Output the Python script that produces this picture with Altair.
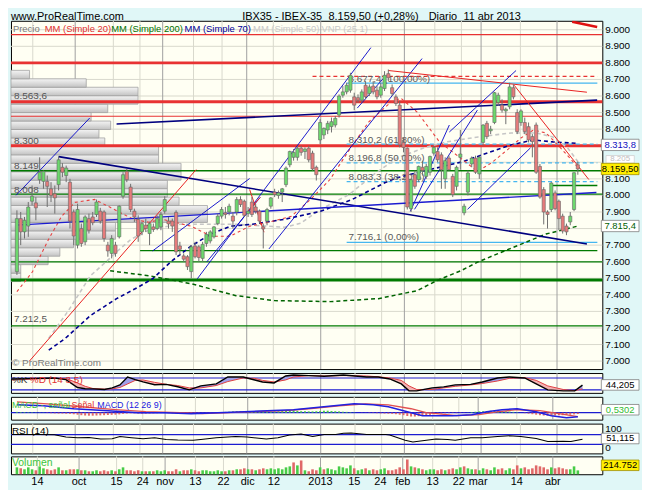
import altair as alt
import pandas as pd

FONT = "Liberation Sans"
PAGE_BG = "#e0f7f7"
PLOT_BG = "#fffff3"
GRID_LIGHT = "#d9d9cc"
GRID_DARK = "#a0a0a0"
UP_FILL = "#6dd86d"
DOWN_FILL = "#e67b7b"
VOL_UP = "#47cc47"
VOL_DOWN = "#e06868"
RED = "#e83232"
GREEN = "#007a00"
LBLUE = "#45b6f0"
NAVY = "#00007f"
BLUE = "#1c1cd0"

W = 596
H_MAIN, H_STO, H_MACD, H_RSI, H_VOL = 351, 20, 23, 30, 18
XD = [-0.2574, 153.15]
YD = [6952, 9054]
SD = [5, 105]
MD = [-84, 192]
RD = [-6, 114]
VD = [0, 1000]
BOX_X = 614
LABEL_X = 599

# ---------------- daily candles (bar index 0 .. 148) ----------------
opens = [7540, 7860, 7780, 7815, 7965, 7955, 8095, 8085, 8085, 8040,
         8010, 8065, 8170, 8120, 8080, 7900, 7700, 7800, 7720, 7860,
         7870, 7885, 7905, 7900, 7700, 7650, 7700, 7750, 7995, 8145,
         8050, 7905, 7855, 7780, 7820, 7770, 7810, 7800, 7810, 7905,
         7845, 7845, 7898, 7695, 7635, 7630, 7540, 7695, 7690, 7620,
         7710, 7725, 7750, 7830, 7875, 7895, 7900, 7875, 7900, 7975,
         7965, 7890, 7960, 7930, 7905, 7810, 7845, 7935, 8020, 8000,
         8020, 8065, 8185, 8230, 8230, 8285, 8265, 8285, 8255, 8170,
         8335, 8365, 8395, 8415, 8425, 8485, 8605, 8625, 8635, 8595,
         8590, 8575, 8665, 8615, 8660, 8635, 8605, 8645, 8735, 8650,
         8595, 8545, 8320, 8285, 7920, 8125, 8095, 8170, 8115, 8140,
         8255, 8265, 8245, 8100, 8225, 8115, 8055, 8230, 7895, 8020,
         8190, 8225, 8130, 8320, 8435, 8390, 8440, 8560, 8545, 8510,
         8535, 8650, 8500, 8440, 8440, 8415, 8355, 8425, 8175, 8035,
         7900, 7915, 8015, 7965, 7875, 7815, 7840, 7915, 8185]
highs = [7910, 7900, 7870, 7960, 8060, 7990, 8230, 8150, 8120, 8080,
         8060, 8235, 8195, 8180, 8100, 7915, 7950, 7830, 7880, 7890,
         7900, 7975, 7925, 7910, 7720, 7760, 7720, 7940, 8140, 8160,
         8070, 7920, 7880, 7840, 7860, 7840, 7830, 7880, 7900, 7995,
         7870, 7860, 7910, 7720, 7650, 7640, 7700, 7720, 7700, 7720,
         7780, 7790, 7815, 7890, 7930, 7930, 7950, 7900, 7990, 7995,
         7975, 7930, 7990, 7950, 7915, 7830, 7925, 7990, 8040, 8030,
         8045, 8175, 8270, 8280, 8300, 8300, 8290, 8300, 8270, 8180,
         8460, 8410, 8450, 8470, 8480, 8610, 8660, 8680, 8740, 8620,
         8610, 8640, 8690, 8670, 8690, 8660, 8680, 8750, 8760, 8670,
         8610, 8570, 8350, 8290, 8100, 8150, 8180, 8210, 8190, 8240,
         8300, 8290, 8260, 8230, 8240, 8130, 8180, 8395, 7950, 8150,
         8235, 8240, 8240, 8430, 8450, 8420, 8625, 8620, 8580, 8530,
         8680, 8670, 8520, 8520, 8470, 8440, 8370, 8440, 8190, 8050,
         7910, 8080, 8030, 7975, 7890, 7830, 7900, 8140, 8205]
lows = [7520, 7700, 7740, 7750, 7940, 7850, 8070, 8040, 7930, 7960,
        7890, 8030, 8110, 8080, 7800, 7700, 7680, 7690, 7700, 7770,
        7820, 7870, 7830, 7720, 7630, 7620, 7630, 7740, 7980, 8080,
        7900, 7840, 7720, 7760, 7780, 7700, 7780, 7790, 7790, 7890,
        7800, 7780, 7640, 7640, 7600, 7550, 7500, 7620, 7600, 7600,
        7690, 7710, 7740, 7820, 7860, 7860, 7880, 7800, 7880, 7930,
        7870, 7870, 7870, 7890, 7830, 7680, 7820, 7920, 7990, 7980,
        7960, 8050, 8170, 8210, 8210, 8240, 8220, 8200, 8150, 8090,
        8310, 8340, 8370, 8380, 8410, 8470, 8590, 8610, 8620, 8515,
        8560, 8560, 8580, 8600, 8610, 8580, 8590, 8630, 8690, 8600,
        8540, 8290, 8260, 7915, 7900, 8040, 8080, 8120, 8100, 8120,
        8240, 8200, 8040, 8040, 8150, 7990, 8030, 8155, 7880, 8000,
        8170, 8130, 8100, 8300, 8340, 8370, 8430, 8540, 8500, 8430,
        8520, 8580, 8370, 8420, 8370, 8320, 8230, 8130, 7980, 7825,
        7800, 7900, 7910, 7790, 7770, 7760, 7820, 7905, 8125]
closes = [7860, 7780, 7850, 7930, 7995, 7925, 8140, 8145, 8055, 8000,
          7985, 8215, 8140, 8165, 7845, 7755, 7915, 7710, 7870, 7790,
          7835, 7960, 7845, 7740, 7665, 7740, 7650, 7935, 8125, 8095,
          7915, 7870, 7755, 7830, 7800, 7830, 7795, 7860, 7885, 7975,
          7828, 7815, 7660, 7675, 7615, 7570, 7690, 7630, 7625, 7705,
          7765, 7780, 7810, 7875, 7915, 7885, 7935, 7845, 7975, 7945,
          7880, 7905, 7885, 7905, 7845, 7798, 7915, 7985, 8005, 8015,
          8040, 8165, 8265, 8260, 8285, 8260, 8280, 8215, 8160, 8125,
          8440, 8405, 8435, 8445, 8465, 8600, 8625, 8665, 8725, 8545,
          8575, 8625, 8595, 8655, 8625, 8595, 8655, 8725, 8710, 8615,
          8555, 8305, 8290, 7930, 8095, 8055, 8175, 8150, 8175, 8235,
          8290, 8215, 8155, 8210, 8155, 8005, 8170, 8250, 7935, 8135,
          8225, 8140, 8230, 8425, 8355, 8400, 8620, 8605, 8515, 8520,
          8655, 8595, 8385, 8510, 8385, 8335, 8325, 8140, 7990, 7900,
          7885, 8075, 7920, 7860, 7785, 7780, 7875, 8137, 8159.5]
volumes = [385, 330, 275, 385, 275, 220, 440, 330, 275, 220,
           275, 385, 220, 220, 275, 275, 275, 220, 220, 165,
           165, 220, 165, 220, 165, 220, 165, 275, 385, 220,
           220, 165, 220, 165, 165, 165, 165, 220, 165, 220,
           165, 165, 275, 165, 220, 220, 275, 220, 165, 220,
           220, 165, 165, 220, 165, 165, 220, 220, 275, 275,
           330, 275, 275, 220, 275, 330, 275, 330, 275, 330,
           275, 385, 440, 660, 495, 770, 220, 165, 275, 220,
           385, 275, 330, 275, 220, 440, 385, 330, 495, 330,
           220, 275, 330, 220, 275, 220, 275, 330, 220, 220,
           275, 385, 275, 825, 440, 385, 330, 275, 220, 275,
           275, 220, 275, 220, 275, 330, 275, 385, 440, 330,
           275, 275, 220, 330, 275, 220, 385, 275, 330, 220,
           330, 275, 495, 330, 385, 275, 330, 495, 440, 385,
           275, 385, 330, 385, 330, 275, 275, 440, 214.752]
macd_hist = [10, 8, 8, 6, 6, 4, 4, 2, -4, -6,
             -8, -10, -10, -12, -14, -18, -24, -30, -34, -36,
             -36, -34, -32, -30, -28, -26, -24, -20, -14, -10,
             -8, -8, -10, -12, -12, -10, -8, -6, -4, -4,
             -6, -8, -10, -12, -14, -14, -14, -12, -10, -8,
             -6, -4, -2, 4, 6, 10, 12, 16, 18, 18,
             18, 16, 12, 12, 10, 10, 10, 12, 16, 18,
             20, 24, 24, 24, 22, 18, 18, 16, 16, 18,
             20, 24, 24, 20, 18, 16, 12, 10, 6, 4,
             0, -2, -2, -4, -4, -6, -8, -10, -12, -14,
             -18, -24, -30, -40, -46, -46, -42, -38, -32, -26,
             -20, -14, -10, -8, -6, -4, -6, -4, -2, 2,
             8, 12, 16, 18, 20, 24, 24, 22, 20, 16,
             14, 10, 6, 0, -6, -12, -18, -24, -30, -34,
             -36, -36, -34, -32, -30, -28, -24, -20, -16]

# ---------------- date axis ----------------
tick_pos = [5.4, 16.4, 26.3, 33.2, 39.1, 47.1, 54.5, 60.9, 67.8, 80.1,
            89.0, 95.9, 101.8, 109.7, 116.6, 121.7, 131.9, 141.4]
tick_lab = ["14", "oct", "15", "24", "nov", "13", "22", "dic", "12", "2013",
            "15", "24", "feb", "13", "22", "mar", "14", "abr"]
tick_month = [False, True, False, False, True, False, False, True, False, True,
              False, False, True, False, False, True, False, True]
price_ticks = [7000, 7100, 7200, 7300, 7400, 7500, 7600, 7700, 7800, 7900, 8000,
               8100, 8200, 8300, 8400, 8500, 8600, 8700, 8800, 8900, 9000]

# ---------------- volume at price (VNP) ----------------
prof_lo = [7480, 7531, 7582, 7633, 7684, 7735, 7786, 7837, 7888, 7939, 7990, 8041, 8092,
           8143, 8194, 8245, 8296, 8347, 8398, 8449, 8500, 8551, 8602, 8653, 8704]
prof_hi = [7531, 7582, 7633, 7684, 7735, 7786, 7837, 7888, 7939, 7990, 8041, 8092, 8143,
           8194, 8245, 8296, 8347, 8398, 8449, 8500, 8551, 8602, 8653, 8704, 8755]
prof_vol = [10, 10, 38, 50, 64, 107, 107, 201, 201, 172, 160, 160, 174,
            174, 151, 151, 96, 90, 102, 82, 99, 130, 130, 77, 19]
prof_lab = ["8.563,6", "8.300", "8.149", "8.008", "7.212,5"]
prof_lab_p = [8599, 8329, 8180, 8030, 7252]

# ---------------- horizontal levels ----------------
red_thick_lv = [8800, 8566, 8300]
red_thin_lv = [8970, 8478]
green_thin_lv = [8149, 8008, 7599, 7212.5]
green_thick_lv = [7490]
green_part_lv = [8060, 7667]
green_part_from = [141, 32.5]
red_dash_lv = [8718]
red_dash_from = [78]
fib_lv = [8677.4, 8310.2, 8196.8, 8083.3, 7716.1]
fib_solid = [True, False, False, False, True]
fib_from = 87
fib_lab = ["8.677,4 (100,00%)", "8.310,2 (61,80%)", "8.196,8 (50,00%)", "8.083,3 (38,20%)", "7.716,1 (0,00%)"]
fib_lab_p = [8705, 8335, 8228, 8114, 7749]

# ---------------- last-value tags on the price scale ----------------
tag_val = [8313.8, 8159.5, 7815.4]
tag_pos = [8305, 8159.5, 7815.4]
tag_lab = ["8.313,8", "8.159,50", "7.815,4"]
mm50_tag_pos = 8218
mm50_tag_lab = "8.205"

# ---------------- trend lines (bar index, price) ----------------
navy_x0, navy_p0, navy_x1, navy_p1 = [11.0, 26.3], [8234, 8431], [150.4, 153.1], [7707, 8575]
bmid_x0, bmid_p0, bmid_x1, bmid_p1 = [-0.2], [7821], [152.9], [8018]
thin_x0 = [-0.2, 35.8, 47.6, 50.1, 66.5, 89.8, 103.8, 104.9, 118.9, 114.1]
thin_p0 = [8001, 7665, 7497, 7599, 7677, 8527, 7904, 7916, 7916, 8383]
thin_x1 = [19.2, 61.4, 93.4, 64.2, 106.9, 96.7, 114.1, 121.5, 135.5, 131.7]
thin_p1 = [8467, 8102, 8892, 7988, 8826, 8707, 8425, 8515, 8287, 8754]
rtl_x0 = [3.3, 98.0, 131.2, 61.4, 60.9]
rtl_p0 = [7000, 8754, 8665, 8036, 7904]
rtl_x1 = [47.3, 150.4, 150.9, 65.2, 64.2]
rtl_p1 = [8156, 8623, 8096, 7778, 7988]
rtk_x0, rtk_p0, rtk_x1, rtk_p1 = [146.5], [9048], [153.1], [9017]

# ---------------- moving averages ----------------
mm20_i = [0, 4.1, 8.4, 11.8, 15.3, 20.5, 24.6, 30.7, 34.8, 38.4, 46.0, 51.2, 56.3, 61.4, 66.5,
          72.4, 77.5, 82.6, 87.7, 92.8, 98.7, 101.3, 105.6, 111.5, 117.6, 121.5, 125.3, 129.4,
          133.0, 136.3, 139.6, 142.7, 145.8, 148]
mm20_v = [7419, 7539, 7737, 7874, 7958, 7976, 7928, 7856, 7838, 7856, 7814, 7754, 7754, 7814, 7838,
          7874, 7976, 8096, 8275, 8443, 8563, 8587, 8503, 8323, 8216, 8144, 8198, 8275,
          8347, 8395, 8377, 8305, 8228, 8170]
mm50_i = [8.4, 13.6, 19.4, 23.8, 26.3, 30.2, 35.3, 43.0, 57.8, 70.6, 74.9, 80.1, 87.7, 94.1,
          100.5, 107.4, 113.3, 121.7, 130.4, 137.1, 141.4, 145.3, 148]
mm50_v = [7138, 7305, 7515, 7605, 7659, 7737, 7796, 7826, 7826, 7808, 7832, 7916, 8006, 8126,
          8228, 8287, 8323, 8353, 8377, 8377, 8353, 8287, 8205]
mm70_i = [8.4, 12.8, 19.4, 26.3, 32.2, 35.8, 40.9, 46.0, 51.2, 56.3, 62.1, 70.6, 80.1, 88.5,
          97.2, 100.5, 109.0, 117.6, 124.3, 130.4, 136.3, 141.4, 148]
mm70_v = [7066, 7138, 7275, 7377, 7449, 7497, 7605, 7695, 7767, 7814, 7826, 7856, 7904, 7976,
          8078, 8108, 8156, 8204, 8257, 8305, 8335, 8323, 8314]
mm200_i = [24.6, 34.8, 46.0, 57.8, 68.0, 82.6, 95.4, 105.6, 110.7, 117.1, 121.7, 131.2, 139.6, 148]
mm200_v = [7545, 7515, 7467, 7395, 7365, 7359, 7377, 7425, 7485, 7545, 7599, 7689, 7767, 7815]

# ---------------- oscillators ----------------
stoch_i = [0, 6, 11, 14, 17, 19, 21, 24, 26, 28, 30, 32, 34, 37, 40, 43, 46, 49, 53, 56,
           60, 63, 65, 68, 71, 73, 77, 81, 86, 92, 95, 98, 101, 103, 105, 109, 112, 115, 119, 122,
           126, 129, 133, 136, 139, 143, 146, 148]
stoch_k = [75, 78, 80, 72, 32, 26, 25, 22, 30, 45, 85, 72, 60, 46, 48, 36, 20, 40, 50, 85,
           85, 70, 60, 55, 90, 95, 92, 89, 95, 85, 85, 75, 50, 15, 15, 30, 35, 45, 48, 60,
           80, 85, 80, 50, 20, 15, 15, 44.2]
stoch_d = [70, 75, 78, 78, 55, 38, 27, 24, 25, 32, 50, 68, 70, 58, 48, 42, 30, 30, 42, 62,
           80, 78, 68, 60, 70, 85, 92, 90, 92, 90, 86, 80, 68, 40, 22, 22, 30, 38, 45, 52,
           65, 78, 82, 68, 40, 22, 16, 25]
macd_i = [0, 7, 15, 24, 32, 39, 46, 53, 60, 66, 73, 81, 89, 94, 98, 103, 107, 115, 120, 124,
          128, 132, 137, 141, 145, 148]
macd_v = [96, 84, 48, 24, 0, 0, -12, 0, 12, 24, 36, 72, 108, 96, 72, 12, -36, -36, -24, 12,
          36, 48, 12, -36, -60, -48]
sig_i = [0, 8, 17, 26, 34, 43, 49, 56, 63, 71, 77, 85, 92, 98, 104, 108, 116, 122, 127, 132,
         138, 143, 148]
sig_v = [132, 108, 72, 36, 12, 0, -12, 0, 12, 24, 48, 84, 108, 96, 48, 0, -36, -24, 12, 36,
         24, -12, -48]
rsi_i = [0, 7, 11, 14, 17, 20, 23, 26, 28, 31, 34, 37, 40, 43, 47, 49, 53, 58, 61, 66,
         69, 72, 75, 78, 81, 84, 86, 88, 92, 97, 98, 102, 104, 107, 110, 113, 115, 119, 122, 126,
         129, 132, 136, 139, 143, 145, 148]
rsi_v = [70, 70, 69, 60, 57, 58, 52, 53, 62, 57, 53, 57, 50, 48, 47, 50, 57, 62, 60, 52,
         57, 68, 72, 62, 70, 70, 75, 76, 70, 70, 68, 47, 40, 46, 52, 50, 47, 57, 57, 62,
         65, 62, 54, 42, 43, 42, 51.1]


# ================= helpers =================
def X(field="i"):
    return alt.X(f"{field}:Q", scale=alt.Scale(domain=XD, nice=False, zero=False), axis=None)


def Y(field, dom):
    return alt.Y(f"{field}:Q", scale=alt.Scale(domain=dom, nice=False, zero=False), axis=None)


grid_df = pd.DataFrame({"t": tick_pos, "lab": tick_lab,
                        "gc": [GRID_DARK if m else GRID_LIGHT for m in tick_month]})


def vgrid():
    return alt.Chart(grid_df).mark_rule(strokeWidth=1).encode(
        x=X("t"), color=alt.Color("gc:N", scale=None))


def hlines(levels, color, width, dash=None, start=None):
    d = pd.DataFrame({"p": levels})
    kw = dict(color=color, strokeWidth=width)
    if dash:
        kw["strokeDash"] = dash
    if start is None:
        return alt.Chart(d).mark_rule(**kw).encode(y=Y("p", YD))
    d["x0"] = start
    d["x1"] = XD[1]
    return alt.Chart(d).mark_rule(**kw).encode(x=X("x0"), x2="x1:Q", y=Y("p", YD))


def segs(x0, p0, x1, p1, color, width):
    d = pd.DataFrame({"x0": x0, "p0": p0, "x1": x1, "p1": p1})
    return alt.Chart(d).mark_rule(color=color, strokeWidth=width, clip=True).encode(
        x=X("x0"), y=Y("p0", YD), x2="x1:Q", y2="p1:Q")


def ma(ii, vv, color, width, dash, dom=YD):
    d = pd.DataFrame({"i": ii, "v": vv})
    return alt.Chart(d).mark_line(color=color, strokeWidth=width, strokeDash=dash, clip=True).encode(
        x=X(), y=Y("v", dom))


def ptext(texts, xs, ys, colors, size, align="left", baseline="middle"):
    d = pd.DataFrame({"t": texts, "x": xs, "y": ys, "col": colors})
    return alt.Chart(d).mark_text(font=FONT, fontSize=size, align=align, baseline=baseline).encode(
        x=alt.X("x:Q", scale=None), y=alt.Y("y:Q", scale=None), text="t:N",
        color=alt.Color("col:N", scale=None))


BOX = "M-1,-0.3L1,-0.3L1,0.3L-1,0.3Z"
BOX_S = "M-1,-0.28L1,-0.28L1,0.28L-1,0.28Z"
BOX_T = "M-0.75,-0.2L0.75,-0.2L0.75,0.2L-0.75,0.2Z"
BOX_SIZE = 1444  # 38 px wide


def boxes(vals, labels, fills, strokes, tcols, dom, size=9.5, shape=BOX):
    d = pd.DataFrame({"p": vals, "lab": labels, "f": fills, "s": strokes, "tc": tcols})
    b = alt.Chart(d).mark_point(shape=shape, filled=True, opacity=1, size=BOX_SIZE, strokeWidth=0.8).encode(
        x=alt.value(BOX_X), y=Y("p", dom), fill=alt.Fill("f:N", scale=None),
        stroke=alt.Stroke("s:N", scale=None))
    t = alt.Chart(d).mark_text(font=FONT, fontSize=size, align="center", baseline="middle").encode(
        x=alt.value(BOX_X), y=Y("p", dom), text="lab:N", color=alt.Color("tc:N", scale=None))
    return [b, t]


def pixbox(ypix, label, fill, stroke, tcol, size=9.5):
    d = pd.DataFrame({"lab": [label]})
    b = alt.Chart(d).mark_point(shape=BOX_S, filled=True, opacity=1, size=BOX_SIZE, strokeWidth=0.8,
                                fill=fill, stroke=stroke).encode(x=alt.value(BOX_X), y=alt.value(ypix))
    t = alt.Chart(d).mark_text(font=FONT, fontSize=size, align="center", baseline="middle",
                               color=tcol).encode(x=alt.value(BOX_X), y=alt.value(ypix), text="lab:N")
    return [b, t]


# ================= main price panel =================
n = len(closes)
cdf = pd.DataFrame({"i": list(range(n)), "o": opens, "h": highs, "l": lows, "c": closes, "v": volumes,
                    "mh": macd_hist})
cdf["col"] = [UP_FILL if c >= o else DOWN_FILL for o, c in zip(opens, closes)]
prev_close = [opens[0]] + closes[:-1]
cdf["vcol"] = [VOL_UP if c >= p else VOL_DOWN for c, p in zip(closes, prev_close)]
cdf["hcol"] = [VOL_UP if h >= 0 else VOL_DOWN for h in macd_hist]
cdf["zero"] = 0

pt_df = pd.DataFrame({"p": price_ticks, "t": [f"{p:,}".replace(",", ".") for p in price_ticks]})
# labels that sit under a value tag are hidden in the original
covered = tag_pos + [mm50_tag_pos]
visible = pt_df[[min(abs(p - v) for v in covered) > 45 for p in price_ticks]]
hgrid = alt.Chart(pt_df).mark_rule(color=GRID_LIGHT, strokeWidth=1).encode(y=Y("p", YD))
price_labels = alt.Chart(visible).mark_text(font=FONT, fontSize=10, align="left", baseline="middle",
                                            color="#000000").encode(x=alt.value(LABEL_X), y=Y("p", YD),
                                                                    text="t:N")

prof_df = pd.DataFrame({"lo": prof_lo, "hi": prof_hi, "v": prof_vol})
prof_df["z"] = 0
profile = alt.Chart(prof_df).mark_rect(
    fill=alt.LinearGradient(gradient="linear", x1=0, x2=0, y1=0, y2=1,
                            stops=[alt.GradientStop(offset=0, color="#f4f4f4"),
                                   alt.GradientStop(offset=0.5, color="#dcdcdc"),
                                   alt.GradientStop(offset=1, color="#c2c2c2")]),
    stroke="#a2a2a2", strokeWidth=0.8).encode(
    x=alt.X("z:Q", scale=alt.Scale(domain=[0, 605], nice=False, zero=False), axis=None),
    x2="v:Q", y=Y("lo", YD), y2="hi:Q")

fib_solid_lines = hlines([p for p, s in zip(fib_lv, fib_solid) if s], LBLUE, 1.2, start=fib_from)
fib_dash_lines = hlines([p for p, s in zip(fib_lv, fib_solid) if not s], LBLUE, 1.2, dash=[4, 3],
                        start=fib_from)

fib_txt = alt.Chart(pd.DataFrame({"i": [fib_from + 0.5] * len(fib_lab), "p": fib_lab_p, "t": fib_lab})).mark_text(
    font=FONT, fontSize=10, align="left", baseline="middle", color="#5a5a5a").encode(
    x=X(), y=Y("p", YD), text="t:N")

prof_txt = alt.Chart(pd.DataFrame({"p": prof_lab_p, "t": prof_lab})).mark_text(
    font=FONT, fontSize=10, align="left", baseline="middle", color="#555555").encode(
    x=alt.value(3), y=Y("p", YD), text="t:N")

wick = alt.Chart(cdf).mark_rule(color="#6e6e6e", strokeWidth=1).encode(x=X(), y=Y("l", YD), y2="h:Q")
body = alt.Chart(cdf).mark_bar(size=3.2, stroke="#666666", strokeWidth=0.6).encode(
    x=X(), y=Y("o", YD), y2="c:Q", fill=alt.Fill("col:N", scale=None))

legend = ptext(["Precio", "MM (Simple 20)", "MM (Simple 200)", "MM (Simple 70)", "MM (Simple 50)", "VNP (25 1)"],
               [2, 34, 101, 175, 244, 313], [8] * 6,
               ["#7a7a7a", "#e03030", "#007000", "#000099", "#c8c8c8", "#c8c8c8"], 9.5)
header = ptext(["www.ProRealTime.com", "IBX35 - IBEX-35", "8.159,50 (+0,28%)", "Diario", "11 abr 2013"],
               [0, 233, 320, 421, 456], [-10] * 5, ["#000000"] * 5, 11, baseline="top")
wmark = ptext(["\u00a9 ProRealTime.com"], [1], [345], ["#7a7a7a"], 10)

mm50_tag = boxes([mm50_tag_pos], [mm50_tag_lab], ["#ffffff"], ["#d0d0d0"], ["#c0c0c0"], YD,
                 size=8, shape=BOX_T)
main_boxes = boxes(tag_pos, tag_lab,
                   ["#ffffff", "#ffee00", "#ffffff"],
                   ["#808080", "#a09000", "#808080"],
                   ["#1010c0", "#000000", "#006000"], YD)

rest = [
    hlines(red_thin_lv, RED, 1.2),
    hlines(red_thick_lv, RED, 3),
    hlines(red_dash_lv, RED, 1.3, dash=[4, 3], start=red_dash_from),
    fib_solid_lines, fib_dash_lines,
    hlines(green_thin_lv, GREEN, 1.3),
    hlines(green_thick_lv, GREEN, 3),
    alt.layer(*[hlines([lv], GREEN, 1.3, start=st) for lv, st in zip(green_part_lv, green_part_from)]),
    ma(mm200_i, mm200_v, "#006400", 1.5, [4, 3]),
    ma(mm50_i, mm50_v, "#c6c6c6", 1.6, [4, 3]),
    ma(mm70_i, mm70_v, "#000090", 1.6, [4, 3]),
    ma(mm20_i, mm20_v, "#e84040", 1.1, [3, 3]),
    segs(thin_x0, thin_p0, thin_x1, thin_p1, "#0000c8", 0.9),
    segs(navy_x0, navy_p0, navy_x1, navy_p1, NAVY, 1.6),
    segs(bmid_x0, bmid_p0, bmid_x1, bmid_p1, BLUE, 1.4),
    segs(rtl_x0, rtl_p0, rtl_x1, rtl_p1, "#e82020", 1.0),
    segs(rtk_x0, rtk_p0, rtk_x1, rtk_p1, "#e01010", 2.5),
    fib_txt, prof_txt,
    wick, body,
    legend, header, wmark, price_labels,
] + mm50_tag + main_boxes

main = alt.layer(
    alt.layer(hgrid, vgrid()),
    profile,
    alt.layer(*rest),
).resolve_scale(x="independent").properties(width=W, height=H_MAIN)

# ================= stochastic =================
st_df = pd.DataFrame({"i": stoch_i, "k": stoch_k, "d": stoch_d})
st_base = alt.Chart(st_df).transform_calculate(top="max(datum.k, datum.d)", bot="min(datum.k, datum.d)")
stoch = alt.layer(
    vgrid(),
    alt.Chart(pd.DataFrame({"p": [80, 20]})).mark_rule(color=BLUE, strokeWidth=1.2).encode(y=Y("p", SD)),
    st_base.mark_area(color="#a0a0ea").encode(x=X(), y=Y("top", SD), y2="d:Q"),
    st_base.mark_area(color="#f4b2b2").encode(x=X(), y=Y("d", SD), y2="bot:Q"),
    alt.Chart(st_df).mark_line(color="#e04040", strokeWidth=1).encode(x=X(), y=Y("d", SD)),
    alt.Chart(st_df).mark_line(color="#000000", strokeWidth=1.4).encode(x=X(), y=Y("k", SD)),
    ptext(["%K", "%D (14 3 5)"], [1, 19], [7, 7], ["#303030", "#e03030"], 10),
    *pixbox(12, "44,205", "#ffffff", "#808080", "#000000"),
).properties(width=W, height=H_STO)

# ================= MACD =================
macd_df = pd.DataFrame({"i": macd_i, "v": macd_v})
sig_df = pd.DataFrame({"i": sig_i, "v": sig_v})
macd = alt.layer(
    vgrid(),
    alt.Chart(pd.DataFrame({"p": [0]})).mark_rule(color=BLUE, strokeWidth=1.2).encode(y=Y("p", MD)),
    alt.Chart(cdf).mark_bar(size=2).encode(x=X(), y=Y("mh", MD), y2="zero:Q",
                                           fill=alt.Fill("hcol:N", scale=None)),
    alt.Chart(sig_df).mark_line(color="#e05050", strokeWidth=1.3).encode(x=X(), y=Y("v", MD)),
    alt.Chart(macd_df).mark_line(color="#2020e0", strokeWidth=1.5).encode(x=X(), y=Y("v", MD)),
    ptext(["MACD -, se\u00f1al", "Se\u00f1al", "MACD (12 26 9)"], [1, 61, 87], [8, 8, 8],
          ["#3cbf3c", "#e03030", "#2020e0"], 9),
    *pixbox(13, "0,5302", "#ffffff", "#808080", "#33bb33"),
).properties(width=W, height=H_MACD)

# ================= RSI =================
rsi_df = pd.DataFrame({"i": rsi_i, "v": rsi_v})
rsi = alt.layer(
    vgrid(),
    alt.Chart(pd.DataFrame({"p": [70, 30]})).mark_rule(color=BLUE, strokeWidth=1.2).encode(y=Y("p", RD)),
    alt.Chart(rsi_df).mark_line(color="#000000", strokeWidth=1.1).encode(x=X(), y=Y("v", RD)),
    ptext(["RSI (14)"], [1], [7], ["#000000"], 10),
    ptext(["100", "0"], [LABEL_X, LABEL_X], [5, 25], ["#000000", "#000000"], 10),
    *pixbox(15, "51,115", "#ffffff", "#808080", "#000000"),
).properties(width=W, height=H_RSI)

# ================= volume =================
vol = alt.layer(
    vgrid(),
    alt.Chart(cdf).mark_bar(size=2.6).encode(x=X(), y=Y("v", VD), y2="zero:Q",
                                             fill=alt.Fill("vcol:N", scale=None)),
    ptext(["Volumen"], [1], [7], ["#3cc43c"], 10.5),
    *pixbox(9, "214.752", "#ffee00", "#a09000", "#000000"),
    alt.Chart(grid_df).mark_text(font=FONT, fontSize=11, align="center", baseline="middle",
                                 color="#000000").encode(x=X("t"), y=alt.value(26), text="lab:N"),
).properties(width=W, height=H_VOL)

chart = alt.vconcat(main, stoch, macd, rsi, vol, spacing=1).resolve_scale(
    x="independent", y="independent").properties(
    padding={"left": 0, "top": 0, "right": 0, "bottom": 0}, background=PAGE_BG).configure_view(
    stroke="#000000", strokeWidth=1, fill=PLOT_BG)

chart.save("out.html", embed_options={"renderer": "svg", "actions": False})
